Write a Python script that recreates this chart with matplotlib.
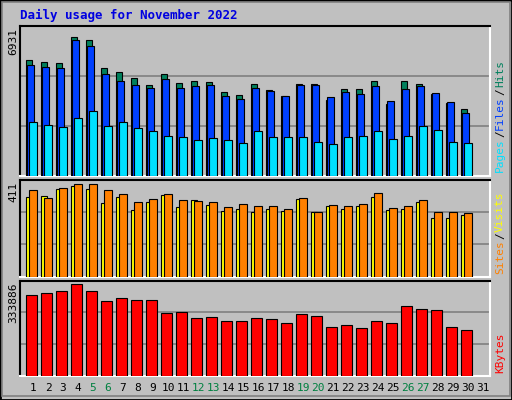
import numpy as np
import matplotlib
matplotlib.use("Agg")
import matplotlib.pyplot as plt
from matplotlib.patches import Rectangle

days = list(range(1, 31))
hits = [5370, 5280, 5230, 6430, 6290, 4980, 4810, 4530, 4210, 4710, 4300, 4390, 4340, 3880, 3740, 4250, 3970, 3700, 4250, 4250, 3510, 4000, 4000, 4390, 3330, 4390, 4250, 3790, 3370, 3080]
files = [5130, 5040, 4990, 6290, 6010, 4710, 4390, 4210, 4070, 4480, 4070, 4160, 4210, 3700, 3560, 4070, 3930, 3700, 4210, 4210, 3650, 3880, 3790, 4160, 3470, 4020, 4160, 3840, 3420, 2910]
pages = [2500, 2360, 2270, 2680, 3000, 2310, 2500, 2220, 2080, 1850, 1800, 1660, 1760, 1660, 1520, 2080, 1800, 1800, 1800, 1570, 1480, 1800, 1850, 2080, 1710, 1850, 2310, 2130, 1570, 1520]
visits = [370, 335, 378, 395, 395, 370, 353, 319, 331, 353, 327, 323, 319, 298, 310, 302, 302, 289, 336, 276, 306, 302, 310, 357, 293, 302, 327, 276, 276, 272]
sites = [340, 344, 374, 386, 374, 314, 340, 285, 319, 348, 298, 327, 306, 281, 289, 276, 289, 281, 331, 276, 302, 289, 302, 340, 285, 289, 319, 250, 250, 264]
kbytes = [283000, 290000, 297000, 321000, 297000, 262000, 272000, 265000, 265000, 220000, 223000, 202000, 206000, 192000, 192000, 202000, 199000, 185000, 216000, 209000, 171000, 178000, 167000, 192000, 185000, 244000, 234000, 230000, 171000, 160000]
max_hits, max_visits, max_kb = 6931, 411, 333886
weekends = [5, 6, 12, 13, 19, 20, 26, 27]

BG = "#C0C0C0"
plt.rcParams['font.family'] = ['DejaVu Sans Mono']
fig = plt.figure(figsize=(5.12, 4.0), dpi=100, facecolor=BG)

def ax_at(top, bot):
    ax = fig.add_axes([20/512, (400-bot)/400, 470/512, (bot-top)/400])
    ax.set_facecolor(BG)
    ax.set_xlim(1 + (20-33)/15, 1 + (490-33)/15)
    ax.set_xticks([]); ax.set_yticks([])
    for s in ("top", "left"):
        ax.spines[s].set_color("black")
    for s in ("bottom", "right"):
        ax.spines[s].set_color("white")
    for sp in ax.spines.values():
        sp.set_linewidth(1.5)
    return ax

d = np.array(days)
kw = dict(edgecolor="black", linewidth=0.8, align="edge", zorder=3)

ax1 = ax_at(26, 176)
ax1.set_ylim(0, max_hits)
for f in (1/3, 2/3):
    ax1.axhline(max_hits*f, color="#808080", lw=1.2, zorder=1)
ax1.bar(d-0.49, hits, 0.44, color="#00805C", **kw)
ax1.bar(d-0.40, files, 0.47, color="#0040FF", **kw)
ax1.bar(d-0.27, pages, 0.51, color="#00E0FF", **kw)

ax2 = ax_at(180, 276.7)
ax2.set_ylim(0, max_visits)
for f in (1/3, 2/3):
    ax2.axhline(max_visits*f, color="#808080", lw=1.2, zorder=1)
ax2.bar(d-0.49, sites, 0.45, color="#FFFF00", **kw)
ax2.bar(d-0.25, visits, 0.49, color="#FF8000", **kw)

ax3 = ax_at(280.7, 375.7)
ax3.set_ylim(0, max_kb)
for f in (1/3, 2/3):
    ax3.axhline(max_kb*f, color="#808080", lw=1.2, zorder=1)
ax3.bar(d-0.45, kbytes, 0.69, color="#FF0000", **kw)

for i in range(1, 32):
    fig.text((33 + 15*(i-1))/512, 1-388/400, str(i), ha="center", va="center",
             fontsize=8, color="#008040" if i in weekends else "black")

fig.text(20/512, 1-15/400, "Daily usage for November 2022", color="#0000E0",
         fontsize=9, fontweight="bold", ha="left", va="center")

for y, t in ((26, str(max_hits)), (180, str(max_visits)), (280.7, str(max_kb))):
    fig.text(13/512, 1-(y+2)/400, t, rotation=90, ha="center", va="top", fontsize=8)

renderer = fig.canvas.get_renderer()

def vlabel(ybottom, parts):
    y = ybottom
    for txt, col in parts:
        t = fig.text(500/512, 1-y/400, txt, rotation=90, ha="center", va="bottom",
                     fontsize=8, color=col)
        bb = t.get_window_extent(renderer)
        y -= bb.height + 1

vlabel(172, [("Pages", "#00E0FF"), ("/", "black"), ("Files", "#0040FF"), ("/", "black"), ("Hits", "#00805C")])
vlabel(274, [("Sites", "#FF8000"), ("/", "black"), ("Visits", "#FFFF00")])
vlabel(373, [("KBytes", "#FF0000")])

fig.patches.append(Rectangle((0, 0), 1, 1, transform=fig.transFigure, fill=False,
                             edgecolor="black", linewidth=2))
fig.patches.append(Rectangle((2/512, 4/400), 508/512, 394/400, transform=fig.transFigure,
                             fill=False, edgecolor="#808080", linewidth=1.2))

fig.savefig("out.png", dpi=100, facecolor=BG)
